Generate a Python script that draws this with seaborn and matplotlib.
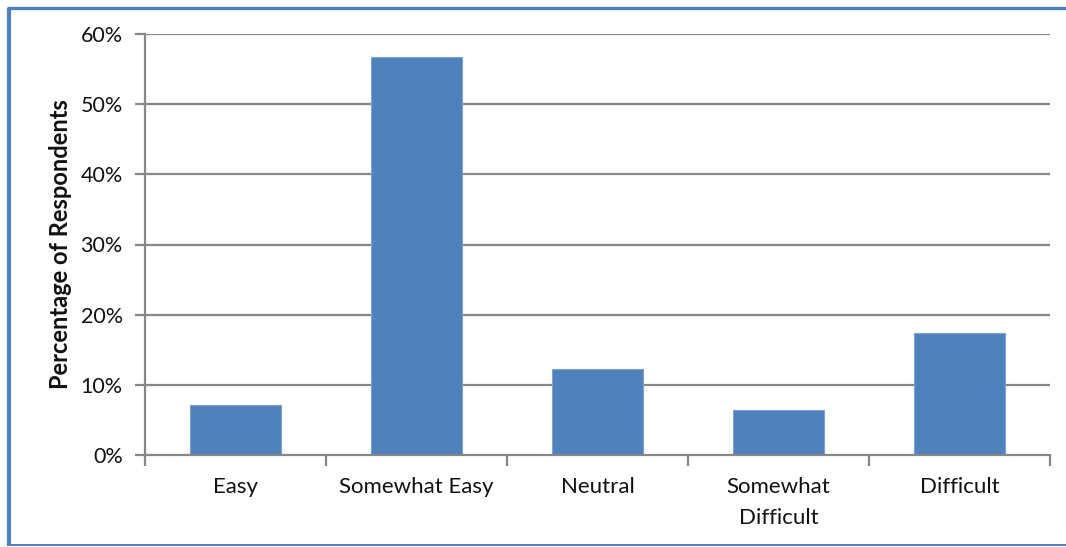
import matplotlib
matplotlib.use("Agg")
import matplotlib.pyplot as plt
from matplotlib.lines import Line2D
from matplotlib.ticker import FixedLocator, FuncFormatter
import seaborn as sns
import pandas as pd

categories = ["Easy", "Somewhat Easy", "Neutral", "Somewhat\nDifficult", "Difficult"]
percentages = [7.1, 56.7, 12.2, 6.4, 17.4]
y_ticks = [0, 10, 20, 30, 40, 50, 60]

sns.set_theme(style="white")
plt.rcParams["font.family"] = ["Lato", "DejaVu Sans"]

df = pd.DataFrame({"Difficulty": categories, "Percent": percentages})

fig = plt.figure(figsize=(10.66, 5.47), dpi=100)
ax = fig.add_axes([145 / 1066, 1 - 455 / 547, (1050 - 145) / 1066, (455 - 34) / 547])

grid_col = "#878787"
bar_col = "#4F81BD"
text_col = "#111111"

ax.set_ylim(0, 60)
for v in y_ticks[1:]:
    ax.axhline(v, color=grid_col, lw=1.6, zorder=0)

sns.barplot(data=df, x="Difficulty", y="Percent", color=bar_col, width=0.5,
            saturation=1, edgecolor="#7FA3D0", linewidth=0.8, ax=ax, zorder=2)
ax.set_xlim(-0.5, 4.5)

ax.yaxis.set_major_locator(FixedLocator(y_ticks))
ax.yaxis.set_major_formatter(FuncFormatter(lambda v, p: f"{int(v)}%"))
ax.tick_params(axis="y", which="major", length=7, width=1.6, color=grid_col,
               direction="out", left=True, labelsize=15.5, pad=9, labelcolor=text_col)

ax.xaxis.set_major_locator(FixedLocator(range(len(categories))))
ax.set_xticklabels(categories, linespacing=1.7)
ax.xaxis.set_minor_locator(FixedLocator([-0.5, 0.5, 1.5, 2.5, 3.5, 4.5]))
ax.tick_params(axis="x", which="major", length=0, labelsize=16, pad=16, labelcolor=text_col)
ax.tick_params(axis="x", which="minor", length=8, width=1.6, color=grid_col,
               direction="out", bottom=True)

for s in ["top", "right"]:
    ax.spines[s].set_visible(False)
for s in ["left", "bottom"]:
    ax.spines[s].set_color(grid_col)
    ax.spines[s].set_linewidth(1.6)

ax.set_xlabel("")
ax.set_ylabel("Percentage of Respondents", fontsize=17, fontweight="bold",
              labelpad=6, color=text_col)

# chart frame
frame_col = "#4F81BD"
fig.add_artist(Line2D([9 / 1066, 9 / 1066], [1 - 8 / 547, 1 - 546 / 547],
                      transform=fig.transFigure, color=frame_col, lw=3.0,
                      solid_capstyle="butt"))
fig.add_artist(Line2D([7 / 1066, 1.0], [1 - 7.5 / 547, 1 - 7.5 / 547],
                      transform=fig.transFigure, color=frame_col, lw=2.4,
                      solid_capstyle="butt"))
fig.add_artist(Line2D([7 / 1066, 1.0], [1 - 545 / 547, 1 - 545 / 547],
                      transform=fig.transFigure, color=frame_col, lw=1.4,
                      solid_capstyle="butt"))

fig.savefig("out.png", dpi=100, facecolor="white")
